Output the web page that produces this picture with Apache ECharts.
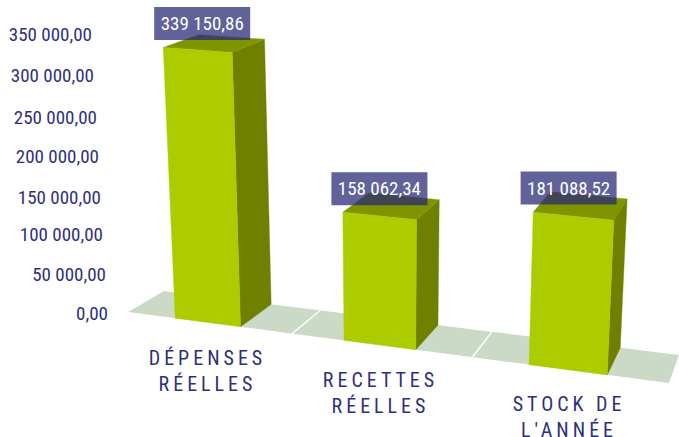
<!DOCTYPE html>
<html><head><meta charset="utf-8">
<style>
html,body{margin:0;padding:0;background:#fff}
#c{width:679px;height:437px}
/* category labels are the only 20px text: they carry the wide tracking */
#c text[style*="20px"]{letter-spacing:4px}
</style>
<script src="https://cdn.jsdelivr.net/npm/echarts@6/dist/echarts.min.js"></script>
</head><body><div id="c"></div>
<script>
const categories = ['DÉPENSES\nRÉELLES', 'RECETTES\nRÉELLES', 'STOCK DE\nL\'ANNÉE'];
const values = [339150.86, 158062.34, 181088.52];
const valueLabels = ['339 150,86', '158 062,34', '181 088,52'];
const yTicks = [0, 50000, 100000, 150000, 200000, 250000, 300000, 350000];
const yTickLabels = ['0,00', '50 000,00', '100 000,00', '150 000,00', '200 000,00', '250 000,00', '300 000,00', '350 000,00'];

const FONT = '"Roboto Condensed","Liberation Sans",sans-serif';
const NAVY = '#2e2f7c';

const F = {fl:[128,312], fr:[669,383], bl:[164,291], br:[679,355]};
const slots = [0, 0.91, 1.91, 3];
const barFrom = 0.288, barTo = 0.686;
function lerp(a,b,t){return [a[0]+(b[0]-a[0])*t, a[1]+(b[1]-a[1])*t];}
function floor(u,d){return lerp(lerp(F.fl,F.fr,u/3), lerp(F.bl,F.br,u/3), d);}
function axisH(api,v){return api.coord([0,0])[1] - api.coord([0,v])[1];}
function raise(api,p,v){
  const h = axisH(api,v);
  const k = (0.98 + 0.00152*(p[1]-304))*(1+0.00012*(h-270));
  const lean = (p[0]-390)*0.000207;
  return [p[0]+lean*h, p[1]-h*k];
}
function poly(points,fill){return {type:'polygon',shape:{points},style:{fill,stroke:fill,lineWidth:0.4}};}

const option = {
  animation:false,
  backgroundColor:'#fff',
  grid:{left:117.5,width:540,top:34,height:279,containLabel:false,outerBoundsMode:'none'},
  xAxis:{
    type:'category',data:categories,
    axisLine:{show:false},axisTick:{show:false},splitLine:{show:false},
    axisLabel:{
      interval:0,margin:32,hideOverlap:false,
      formatter:function(v,i){
        const l=v.split('\n');
        const sp=i?'{s'+i+'| }\n':'';
        return sp+'{c'+i+'|'+l[0]+'}\n{c'+i+'|'+l[1]+'}';
      },
      rich:(function(){
        const base={fontFamily:FONT,fontSize:20,color:NAVY,lineHeight:26};
        const pads=[[0,0,0,0],[0,14,0,0],[0,0,0,3]];
        const gap=[0,22,46];
        const r={};
        pads.forEach((p,i)=>{
          r['c'+i]=Object.assign({},base,{padding:p});
          r['s'+i]={fontFamily:FONT,fontSize:6,lineHeight:gap[i]};
        });
        return r;
      })()
    }
  },
  yAxis:{
    type:'value',min:0,max:350000,interval:50000,
    axisLine:{show:false},axisTick:{show:false},splitLine:{show:false},
    axisLabel:{
      margin:9.5,
      formatter:function(v){const i=yTicks.indexOf(v);return '{t'+i+'|'+yTickLabels[i]+'}';},
      rich:(function(){
        const r={};
        const right=[0,2,5,7,9,11,14,16];
        const down=[0,1.4,1.7,3.6,3.4,3.3,2.1,0];
        right.forEach((p,i)=>{r['t'+i]={fontFamily:FONT,fontSize:19,color:NAVY,padding:[down[i]*2,p,0,0]};});
        return r;
      })()
    }
  },
  series:[
    {
      type:'custom',coordinateSystem:'cartesian2d',clip:false,z:1,silent:true,
      data:categories.map((c,i)=>[i,0]),
      renderItem:function(params,api){
        const i=api.value(0);
        const a=slots[i]+(i?0.005:0), b=slots[i+1]-(i<2?0.005:0);
        return {type:'polygon',shape:{points:[floor(a,0),floor(b,0),floor(b,1),floor(a,1)]},style:{fill:'#cbdac6'}};
      }
    },
    {
      type:'custom',coordinateSystem:'cartesian2d',clip:false,z:2,silent:true,
      data:values.map((v,i)=>[i,v]),
      renderItem:function(params,api){
        const i=api.value(0), v=api.value(1);
        const w=slots[i+1]-slots[i];
        const u0=slots[i]+barFrom*w, u1=slots[i]+barTo*w;
        const b0=floor(u0,0), b1=floor(u1,0), b2=floor(u1,1), b3=floor(u0,1);
        const t0=raise(api,b0,v), t1=raise(api,b1,v), t2=raise(api,b2,v), t3=raise(api,b3,v);
        const cx=(t0[0]+t1[0]+t2[0]+t3[0])/4-12.5;
        const cy=(t0[1]+t1[1]+t2[1]+t3[1])/4+1.5-0.0185*axisH(api,v);
        return {type:'group',children:[
          poly([b1,b2,t2,t1],'#6f8000'),
          poly([t0,t1,t2,t3],'#7f9500'),
          poly([b0,b1,t1,t0],'#adcc00'),
          {type:'rect',shape:{x:cx-48,y:cy-33,width:96,height:33},style:{fill:'rgba(40,40,116,0.73)'},z2:5},
          {type:'text',x:cx,y:cy-16.5,style:{text:valueLabels[i],fontFamily:FONT,fontSize:19,fill:'#fff',align:'center',verticalAlign:'middle'},z2:6}
        ]};
      }
    }
  ]
};
const chart=echarts.init(document.getElementById('c'),null,{renderer:'svg'});
chart.setOption(option);
</script></body></html>
